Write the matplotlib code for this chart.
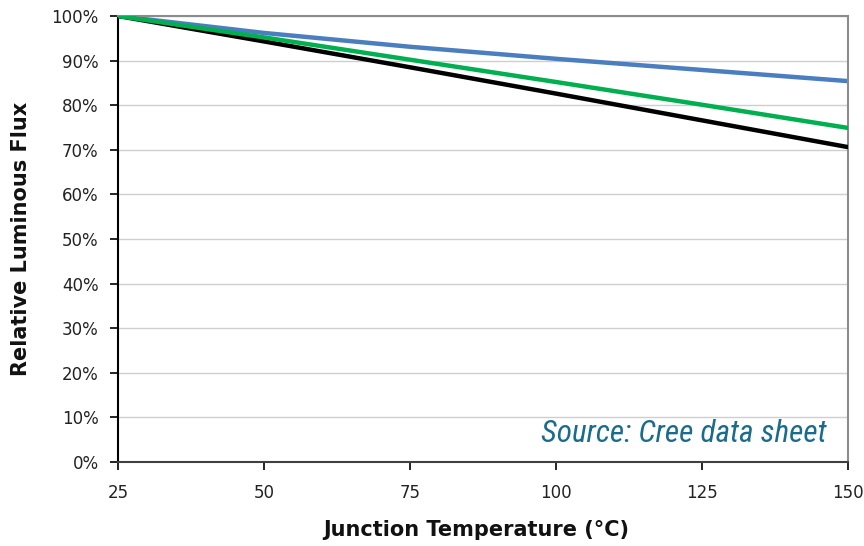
import matplotlib
matplotlib.use("Agg")
import matplotlib.pyplot as plt
from matplotlib.ticker import FuncFormatter
from matplotlib import font_manager

# Relative luminous flux vs. junction temperature for three LED types
temps = [25, 50, 75, 100, 125, 150]
flux_blue = [100.0, 96.2, 93.1, 90.4, 87.9, 85.4]
flux_green = [100.0, 95.2, 90.2, 85.2, 80.1, 74.9]
flux_black = [100.0, 94.3, 88.5, 82.6, 76.6, 70.6]

x_ticks = [25, 50, 75, 100, 125, 150]
y_ticks = list(range(0, 101, 10))

# pick a narrow face for the source note if one is available
installed = {f.name for f in font_manager.fontManager.ttflist}
narrow = [n for n in ("Liberation Sans Narrow", "DejaVu Sans Condensed",
                      "Roboto Condensed", "Open Sans Condensed") if n in installed]
note_family = narrow + ["DejaVu Sans"]

plt.rcParams["font.family"] = ["DejaVu Sans"]

fig = plt.figure(figsize=(8.64, 5.46), dpi=100)
ax = fig.add_axes([0.1366, 0.1538, 0.845, 0.8169])

ax.plot(temps, flux_black, color="#000000", lw=3.2, solid_capstyle="butt", zorder=3)
ax.plot(temps, flux_green, color="#00b050", lw=3.2, solid_capstyle="butt", zorder=4)
ax.plot(temps, flux_blue, color="#4a7ebf", lw=3.2, solid_capstyle="butt", zorder=2)

ax.set_xlim(25, 150)
ax.set_ylim(0, 100)
ax.set_xticks(x_ticks)
ax.set_yticks(y_ticks)
ax.yaxis.set_major_formatter(FuncFormatter(lambda v, p: f"{int(v)}%"))

ax.grid(axis="y", color="#cfcfcf", lw=1.0)
ax.set_axisbelow(True)

for side in ("top", "right"):
    ax.spines[side].set_color("#8c8c8c")
    ax.spines[side].set_linewidth(1.5)
ax.spines["left"].set_color("#000000")
ax.spines["left"].set_linewidth(1.5)
ax.spines["bottom"].set_color("#404040")
ax.spines["bottom"].set_linewidth(1.5)

ax.tick_params(axis="both", direction="out", length=6, width=1.2, color="#000000",
               labelsize=12, labelcolor="#222222")
ax.tick_params(axis="x", pad=10)
ax.tick_params(axis="y", pad=8)

ax.set_xlabel("Junction Temperature (°C)", fontsize=15, fontweight="bold",
              color="#111111")
ax.xaxis.set_label_coords(0.49, -0.13)
ax.set_ylabel("Relative Luminous Flux", fontsize=15, fontweight="bold",
              color="#111111")
ax.yaxis.set_label_coords(-0.119, 0.5)

ax.text(0.970, 0.065, "Source: Cree data sheet", transform=ax.transAxes,
        ha="right", va="center", fontsize=22.5, style="italic",
        fontstretch="condensed", family=note_family, color="#1b6b8c")

fig.savefig("out.png", dpi=100)
